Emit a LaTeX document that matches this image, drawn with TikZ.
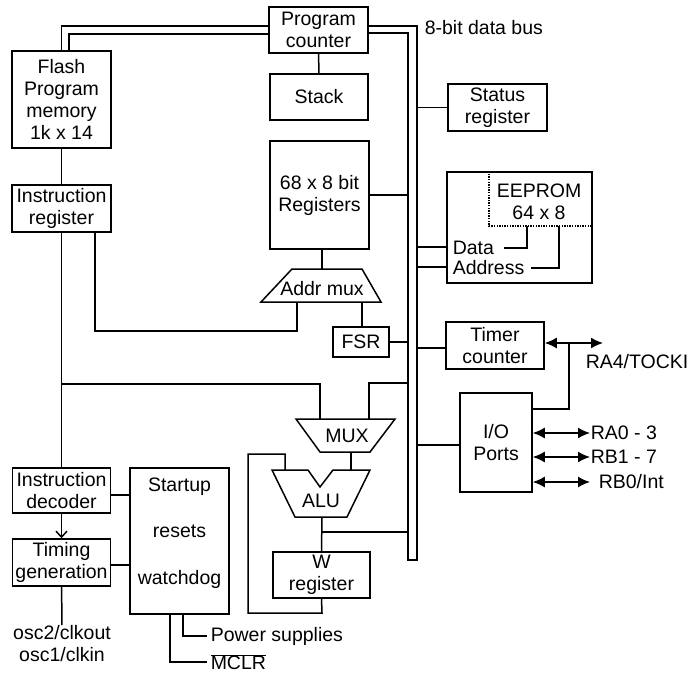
\documentclass[tikz,border=0pt]{standalone}
\usepackage{fontspec}
\setmainfont{Liberation Sans}
\usetikzlibrary{arrows.meta}

\begin{document}
\begin{tikzpicture}[>={Latex[length=12pt,width=11pt]},
    x=1pt, y=-1pt, line width=1.5pt,
    every node/.style={font=\fontsize{19.5}{22}\selectfont},
    blk/.style={draw, align=center, inner sep=0pt},
    lbl/.style={inner sep=0pt, align=center},
    dots/.style={line width=1.3pt, dash pattern=on 1.3pt off 1.3pt}]
  \useasboundingbox (0,0) rectangle (693,674);

  % Bloques
  \node[blk, minimum width=99pt, minimum height=46pt] (pc) at (318.5,30) {Program\\counter};
  \node[blk, minimum width=98pt, minimum height=46pt] (stack) at (319,97) {Stack};
  \node[blk, minimum width=99pt, minimum height=97pt] (flash) at (61.5,99.5) {Flash\\Program\\memory\\1k x 14};
  \node[blk, minimum width=99pt, minimum height=47pt] (ireg) at (61.5,208.5) {Instruction\\register};
  \node[blk, minimum width=99pt, minimum height=108pt] (regs) at (319.5,195) {68 x 8 bit\\Registers};
  \node[blk, minimum width=56pt, minimum height=30pt] (fsr) at (361,342) {FSR};
  \node[blk, minimum width=97pt, minimum height=46pt] (wreg) at (321.5,575) {W\\register};
  \node[blk, minimum width=99pt, minimum height=47pt] (status) at (497.5,107.5) {Status\\register};
  \node[blk, minimum width=145pt, minimum height=111pt] (eeprom) at (519.5,227.5) {};
  \node[blk, minimum width=98pt, minimum height=47pt] (timer) at (495,345.5) {Timer\\counter};
  \node[blk, minimum width=72pt, minimum height=99pt] (io) at (496,442.5) {I/O\\Ports};
  \node[blk, minimum width=98pt, minimum height=45pt] (idec) at (61.5,490.5) {Instruction\\decoder};
  \node[blk, minimum width=98pt, minimum height=47pt] (timing) at (61.5,562.5) {Timing\\generation};
  \node[blk, minimum width=99pt, minimum height=146pt] (startup) at (179.5,541) {};
  \node[lbl] (sutxt) at (179.5,533) {Startup\\[24.5pt]resets\\[24.5pt]watchdog};

  % Multiplexores y ALU
  \draw (292,269) -- (362,269) -- (381,302) -- (261,302) -- cycle;
  \node[lbl] (amux) at (322,289) {Addr mux};
  \draw (296,419) -- (395,419) -- (370,452) -- (320,452) -- cycle;
  \node[lbl] (mux) at (347,436) {MUX};
  \draw (272,470) -- (308,470) -- (320,487) -- (333,470) -- (370,470)
    -- (347,517) -- (295,517) -- cycle;
  \node[lbl] (alu) at (321,501) {ALU};
  \coordinate (amuxT) at (322,269);
  \coordinate (amuxL) at (297,302);
  \coordinate (amuxR) at (362,302);
  \coordinate (muxL) at (320,419);
  \coordinate (muxR) at (369,419);
  \coordinate (muxB) at (351,452);
  \coordinate (aluL) at (285,470);
  \coordinate (aluR) at (351,470);
  \coordinate (aluB) at (322,517);

  % Bus de datos
  \coordinate (busout) at (417,26);
  \coordinate (busin) at (408,33);
  \draw (pc.east |- busout) -- (busout) -- (417,560) -- (408,560)
    -- (busin) -- (pc.east |- busin);
  \node[lbl, anchor=west] (buslbl) at (424,28) {8-bit data bus};

  % Conexiones izquierda
  \draw (flash.north) |- (pc.west |- 0,26);
  \draw (flash.north -| 69,0) |- (pc.west |- 0,34);
  \draw (pc) -- (stack);
  \draw (flash) -- (ireg);
  \draw (ireg) -- (idec);
  \draw[-{Straight Barb[length=6pt,width=11pt]}] (idec) -- (timing);
  \node[lbl, anchor=north] (osc) at (62,625) {osc2/clkout\\osc1/clkin};
  \draw (timing) -- (osc);
  \draw (ireg.south -| 95,0) -- (95,331) -| (amuxL);
  \draw (ireg.south |- 0,384) -| (muxL);
  \draw (idec.east |- 0,495) -- (startup.west |- 0,495);
  \draw (timing.east |- 0,565) -- (startup.west |- 0,565);
  \node[lbl, anchor=west] (pwr) at (210,636) {Power supplies};
  \node[lbl, anchor=west] (mclr) at (210,662) {$\overline{\mbox{MCLR}}$};
  \draw (startup.south -| 183,0) |- ([xshift=-3pt]pwr.west);
  \draw (startup.south -| 170,0) |- ([xshift=-3pt]mclr.west);

  % Conexiones centro
  \draw (amuxT |- regs.south) -- (amuxT);
  \draw (amuxR) -- (fsr.north -| amuxR);
  \draw (fsr.east) -- (fsr.east -| busin);
  \draw (regs.east) -- (regs.east -| busin);
  \draw (busin |- 0,383) -| (muxR);
  \draw (muxB) -- (aluR);
  \draw (aluL) -- (285,454) -- (248,454) |- (322,613) -- (wreg.south);
  \draw (aluB) -- (wreg.north);
  \draw (aluB |- 0,532) -- (busin |- 0,532);

  % Conexiones derecha
  \draw (status.west) -- (status.west -| busout);
  \draw (busout |- 0,247) -- (eeprom.west |- 0,247);
  \draw (busout |- 0,267) -- (eeprom.west |- 0,267);
  \draw[dots] (eeprom.north -| 489,0) |- (eeprom.east |- 0,226);
  \node[lbl] (eetxt) at (539,202) {EEPROM\\64 x 8};
  \node[lbl, anchor=west] (data) at (452,248) {Data};
  \node[lbl, anchor=west] (addr) at (452,268) {Address};
  \draw ([xshift=9pt]data.east) -| (527,226);
  \draw ([xshift=6pt]addr.east) -| (559,226);
  \draw (busout |- 0,348) -- (timer.west |- 0,348);
  \coordinate (ra4end) at (603,343);
  \draw[<->] (timer.east |- ra4end) -- (ra4end);
  \draw (569,343) |- (io.east |- 0,409);
  \node[lbl, anchor=west] (ra4) at (585,362) {RA4/TOCKI};
  \draw (busout |- 0,445) -- (io.west |- 0,445);
  \node[lbl, anchor=west] (ra0) at (590,433) {RA0 - 3};
  \node[lbl, anchor=west] (rb1) at (590,457) {RB1 - 7};
  \node[lbl, anchor=west] (rb0) at (598,482) {RB0/Int};
  \draw[<->] (io.east |- ra0) -- (ra0.west);
  \draw[<->] (io.east |- rb1) -- (rb1.west);
  \draw[<->, shorten >=8pt] (io.east |- rb0) -- (rb0.west);
\end{tikzpicture}
\end{document}
